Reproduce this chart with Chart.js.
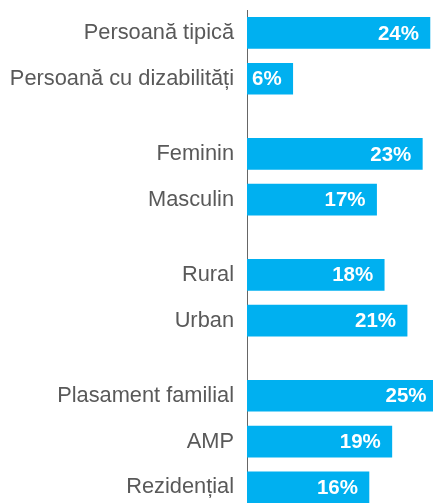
<!DOCTYPE html>
<html>
<head>
<meta charset="utf-8">
<script src="https://cdn.jsdelivr.net/npm/chart.js@4/dist/chart.umd.min.js"></script>
<style>
  html, body { margin: 0; padding: 0; background: #fff; overflow: hidden; }
  #wrap { width: 433px; height: 503px; position: relative; }
</style>
</head>
<body>
<div id="wrap"><canvas id="chart"></canvas></div>
<script>
// Data
const groups = [
    ['Persoană tipică', 'Persoană cu dizabilități'],
    ['Feminin', 'Masculin'],
    ['Rural', 'Urban'],
    ['Plasament familial', 'AMP', 'Rezidențial']
];
const values = [24, 6, 23, 17, 18, 21, 25, 19, 16];
const groupGap = 0.64; // extra empty space between groups, in rows

// Flatten groups into labels + row positions
const labels = [];
const rows = [];
let pos = 0;
groups.forEach((g, gi) => {
    if (gi > 0) pos += groupGap;
    g.forEach(name => {
        labels.push(name);
        rows.push(pos);
        pos += 1;
    });
});

const barColor = '#00B0F0';
const textColor = '#595959';
const fontFamily = "'Liberation Sans', Arial, sans-serif";

// Value labels drawn inside the bar end
const valueLabels = {
    id: 'valueLabels',
    afterDatasetsDraw(chart) {
        const ctx = chart.ctx;
        const meta = chart.getDatasetMeta(0);
        ctx.save();
        ctx.fillStyle = '#ffffff';
        ctx.font = `bold 20.5px ${fontFamily}`;
        ctx.textAlign = 'right';
        ctx.textBaseline = 'middle';
        meta.data.forEach((bar, i) => {
            ctx.fillText(values[i] + '%', bar.x - 11, bar.y + 1);
        });
        ctx.restore();
    }
};

new Chart(document.getElementById('chart').getContext('2d'), {
    type: 'bar',
    data: {
        datasets: [{
            data: values.map((v, i) => ({ x: v, y: rows[i] })),
            backgroundColor: barColor,
            borderWidth: 0,
            barThickness: 31
        }]
    },
    options: {
        indexAxis: 'y',
        responsive: true,
        maintainAspectRatio: false,
        animation: false,
        layout: { padding: { top: 10, right: 0, bottom: 0, left: 0 } },
        plugins: {
            legend: { display: false },
            tooltip: { enabled: false }
        },
        scales: {
            x: {
                display: false,
                min: 0,
                max: 24.4
            },
            y: {
                type: 'linear',
                reverse: true,
                offset: false,
                min: -0.5,
                max: rows[rows.length - 1] + 0.34,
                afterBuildTicks(scale) {
                    scale.ticks = rows.map(r => ({ value: r }));
                },
                afterFit(scale) {
                    scale.width = 247;
                    scale.paddingTop = 0;
                    scale.paddingBottom = 0;
                },
                grid: { display: false, drawTicks: false },
                border: { display: true, color: '#666666', width: 1 },
                ticks: {
                    autoSkip: false,
                    padding: 13,
                    color: textColor,
                    font: { family: fontFamily, size: 21.8 },
                    callback: (value, index) => labels[index]
                }
            }
        }
    },
    plugins: [valueLabels]
});
</script>
</body>
</html>
